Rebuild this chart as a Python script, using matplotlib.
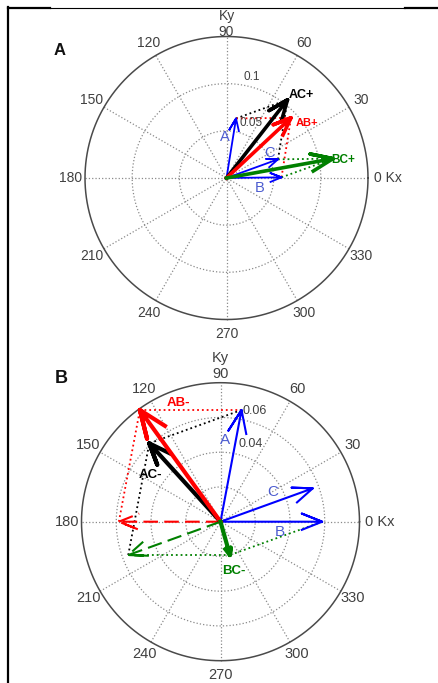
import matplotlib.pyplot as plt
import numpy as np
from matplotlib.lines import Line2D

plt.rcParams["font.family"] = ["Liberation Sans", "DejaVu Sans"]

# base wave vectors (Kx, Ky)
vector_names = ["A", "B", "C"]

a_kx = [0.0101, 0.0583, 0.0546]
a_ky = [0.0631, 0.0007, 0.0198]
a_rings = [0.05, 0.10]
a_ring_labels = ["0.05", "0.1"]
a_rmax = 0.15

b_kx = [0.0121, 0.0585, 0.0531]
b_ky = [0.0643, 0.0, 0.0192]
b_rings = [0.02, 0.04, 0.06]
b_ring_labels = ["", "0.04", "0.06"]
b_rmax = 0.08

angle_ticks = list(range(0, 360, 30))

# combinations: (label, first, second, colour)
combos = [("AC", 0, 2, "black"), ("AB", 0, 1, "red"), ("BC", 1, 2, "#008000")]

BLUE = "#0000ff"
LETTER_BLUE = "#4c5cd0"
GRID = "#8a8a8a"
TEXT = "#404040"


def compass_arrow(ax, z, color, lw, ls="-", dashes=None):
    # MATLAB style compass arrow: open head scaled to the vector length
    pts = np.array([0, z, z * (0.8 + 0.08j), z, z * (0.8 - 0.08j)])
    kwargs = dict(color=color, lw=lw, ls=ls, clip_on=False)
    if dashes is not None:
        kwargs["dashes"] = dashes
    ax.plot(pts.real, pts.imag, **kwargs)


def dotted(ax, z0, z1, color):
    ax.plot([z0.real, z1.real], [z0.imag, z1.imag], ls=":", color=color,
            lw=1.3, clip_on=False)


def draw_grid(ax, rmax, rings, label_size, r90, rky):
    theta = np.linspace(0, 2 * np.pi, 361)
    for r in rings:
        ax.plot(r * np.cos(theta), r * np.sin(theta), ls=":", color=GRID,
                lw=0.9, clip_on=False)
    for ang in range(0, 180, 30):
        t = np.deg2rad(ang)
        ax.plot([-rmax * np.cos(t), rmax * np.cos(t)],
                [-rmax * np.sin(t), rmax * np.sin(t)],
                ls=":", color=GRID, lw=0.9, clip_on=False)
    ax.plot(rmax * np.cos(theta), rmax * np.sin(theta), color="#4a4a4a",
            lw=1.1, clip_on=False)

    for ang in angle_ticks:
        t = np.deg2rad(ang)
        if ang == 0:
            ax.text(1.04 * rmax, 0, "0 Kx", ha="left", va="center",
                    fontsize=label_size, color=TEXT)
        elif ang == 90:
            ax.text(0, r90 * rmax, "90", ha="center", va="center",
                    fontsize=label_size, color=TEXT)
            ax.text(0, rky * rmax, "Ky", ha="center", va="center",
                    fontsize=label_size, color=TEXT)
        else:
            ax.text(1.1 * rmax * np.cos(t), 1.1 * rmax * np.sin(t), str(ang),
                    ha="center", va="center", fontsize=label_size, color=TEXT)

    ax.set_xlim(-rmax, rmax)
    ax.set_ylim(-rmax, rmax)
    ax.set_aspect("equal")
    ax.axis("off")


fig = plt.figure(figsize=(4.38, 6.83), dpi=100)
W, H = 438.0, 683.0

# ---------------- panel A: sums ----------------
ax_a = fig.add_axes([85 / W, (H - 36.5 - 283) / H, 283 / W, 283 / H])
draw_grid(ax_a, a_rmax, a_rings, 10, 1.035, 1.145)

ax_a.text(0.027, 0.107, a_ring_labels[1], ha="center", va="center",
          fontsize=8.5, color=TEXT)
ax_a.text(0.026, 0.058, a_ring_labels[0], ha="center", va="center",
          fontsize=8.5, color=TEXT)

za = [complex(x, y) for x, y in zip(a_kx, a_ky)]

for name, i, j, color in combos:
    s = za[i] + za[j]
    dotted(ax_a, za[i], s, color)
    dotted(ax_a, za[j], s, color)

for z in za:
    compass_arrow(ax_a, z, BLUE, 1.3)

for name, i, j, color in combos:
    compass_arrow(ax_a, za[i] + za[j], color, 2.6)

a_letter_pos = [(-0.0016, 0.0435), (0.0355, -0.0106), (0.0451, 0.0265)]
for name, (x, y) in zip(vector_names, a_letter_pos):
    ax_a.text(x, y, name, ha="center", va="center", fontsize=10.5,
              color=LETTER_BLUE)

a_combo_pos = [(0.0798, 0.088), (0.085, 0.0586), (0.1237, 0.0191)]
a_combo_size = [9, 8, 8.5]
for (name, i, j, color), (x, y), fs in zip(combos, a_combo_pos, a_combo_size):
    ax_a.text(x, y, name + "+", ha="center", va="center", fontsize=fs,
              fontweight="bold", color=color)

# ---------------- panel B: differences ----------------
ax_b = fig.add_axes([81.5 / W, (H - 382.7 - 278) / H, 278 / W, 278 / H])
draw_grid(ax_b, b_rmax, b_rings, 10.5, 1.06, 1.18)

ax_b.text(0.0129, 0.0637, b_ring_labels[2], ha="left", va="center",
          fontsize=9, color=TEXT)
ax_b.text(0.0101, 0.0447, b_ring_labels[1], ha="left", va="center",
          fontsize=9, color=TEXT)

zb = [complex(x, y) for x, y in zip(b_kx, b_ky)]

for name, i, j, color in combos:
    d = zb[i] - zb[j]
    dotted(ax_b, zb[i], d, color)
    dotted(ax_b, -zb[j], d, color)

# negated vectors used for the differences
compass_arrow(ax_b, -zb[1], "red", 1.5, ls="--", dashes=(7, 3))
compass_arrow(ax_b, -zb[2], "#008000", 1.5, ls="--", dashes=(7, 3))

for z in zb:
    compass_arrow(ax_b, z, BLUE, 1.5)

for name, i, j, color in combos:
    compass_arrow(ax_b, zb[i] - zb[j], color, 3.0)

b_letter_pos = [(0.0026, 0.047), (0.0342, -0.0059), (0.030, 0.0173)]
for name, (x, y) in zip(vector_names, b_letter_pos):
    ax_b.text(x, y, name, ha="center", va="center", fontsize=11,
              color=LETTER_BLUE)

b_combo_pos = [(-0.0406, 0.0269), (-0.0243, 0.0683), (0.0074, -0.0282)]
for (name, i, j, color), (x, y) in zip(combos, b_combo_pos):
    ax_b.text(x, y, name + "-", ha="center", va="center", fontsize=9.5,
              fontweight="bold", color=color)

# panel letters
fig.text(59.3 / W, 1 - 50.7 / H, "A", ha="center", va="center",
         fontsize=12, fontweight="bold", color="#111111")
fig.text(61 / W, 1 - 378.3 / H, "B", ha="center", va="center",
         fontsize=13, fontweight="bold", color="#111111")

# frame lines along the left and top edges
fig.add_artist(Line2D([8 / W, 8 / W], [1 - 7 / H, 0], color="black",
                      lw=1.6, transform=fig.transFigure))
fig.add_artist(Line2D([8 / W, 50 / W], [1 - 7.5 / H, 1 - 7.5 / H],
                      color="black", lw=1.6, transform=fig.transFigure))
fig.add_artist(Line2D([50 / W, 405 / W], [1 - 7.5 / H, 1 - 7.5 / H],
                      color="black", lw=0.8, transform=fig.transFigure))
fig.add_artist(Line2D([405 / W, 1], [1 - 7.5 / H, 1 - 7.5 / H],
                      color="black", lw=1.6, transform=fig.transFigure))

fig.savefig("out.png", dpi=100)
